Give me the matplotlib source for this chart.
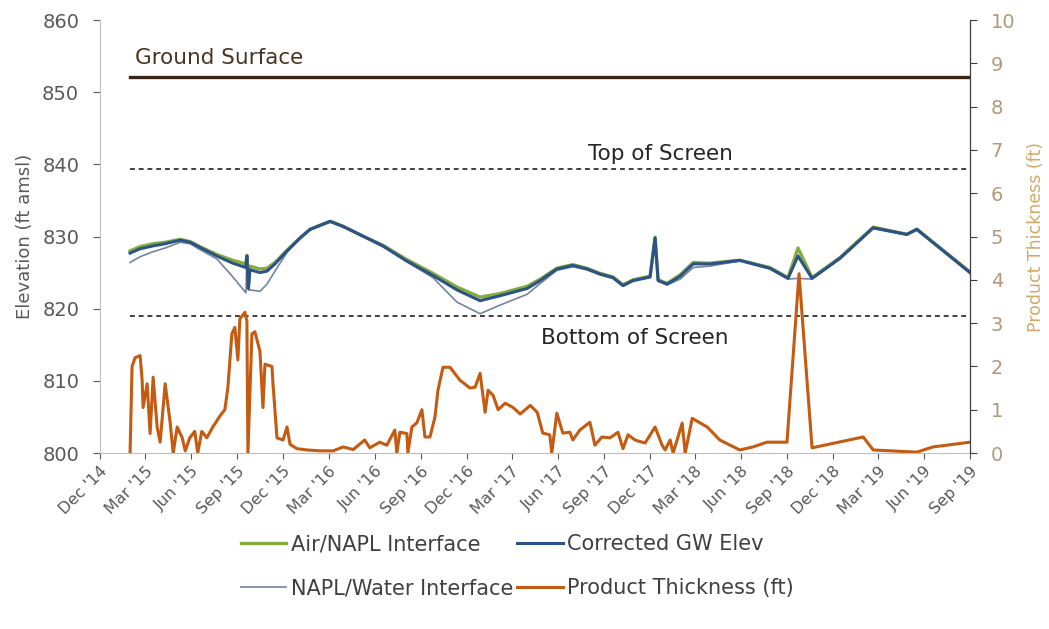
import numpy as np
import pandas as pd
import matplotlib
matplotlib.use("Agg")
import matplotlib.pyplot as plt
import matplotlib.dates as mdates

# groundwater elevations (ft amsl)
elev_dates = ['2015-01-30', '2015-02-19', '2015-03-17', '2015-04-10', '2015-05-10',
              '2015-05-30', '2015-06-18', '2015-07-22', '2015-08-23', '2015-09-18',
              '2015-09-20', '2015-09-23', '2015-09-26', '2015-10-16', '2015-10-30',
              '2015-11-15', '2015-12-09', '2016-01-04', '2016-01-24', '2016-03-04',
              '2016-03-30', '2016-05-16', '2016-06-17', '2016-08-04', '2016-09-25',
              '2016-11-12', '2016-12-28', '2017-02-06', '2017-04-01', '2017-04-27',
              '2017-05-30', '2017-07-01', '2017-07-29', '2017-08-24', '2017-09-19',
              '2017-10-09', '2017-10-29', '2017-12-02', '2017-12-12', '2017-12-18',
              '2018-01-05', '2018-01-31', '2018-02-26', '2018-03-31', '2018-05-30',
              '2018-07-29', '2018-09-03', '2018-09-23', '2018-10-21', '2018-12-16',
              '2019-02-20', '2019-04-28', '2019-05-18', '2019-09-01']
corrected_gw = [827.7, 828.3, 828.7, 829.0, 829.5, 829.2, 828.5, 827.3, 826.3, 825.7,
                827.3, 822.8, 825.4, 825.0, 825.2, 826.2, 828.0, 829.8, 831.0, 832.1,
                831.4, 829.8, 828.7, 826.6, 824.6, 822.6, 821.1, 821.8, 822.8, 823.9,
                825.5, 826.0, 825.5, 824.8, 824.3, 823.2, 823.9, 824.4, 829.8, 823.9,
                823.4, 824.5, 826.2, 826.2, 826.7, 825.6, 824.2, 827.3, 824.2, 827.0,
                831.2, 830.3, 831.0, 825.0]
air_napl = [828.0, 828.6, 829.0, 829.2, 829.6, 829.3, 828.6, 827.5, 826.7, 826.2,
            827.4, 823.0, 825.9, 825.5, 825.6, 826.4, 828.1, 829.8, 831.0, 832.1,
            831.4, 829.8, 828.8, 826.8, 824.9, 823.0, 821.6, 822.1, 823.1, 824.1,
            825.6, 826.1, 825.6, 824.9, 824.4, 823.3, 824.0, 824.5, 829.9, 824.0,
            823.5, 824.7, 826.4, 826.3, 826.7, 825.7, 824.3, 828.4, 824.3, 827.1,
            831.3, 830.3, 831.0, 825.1]
napl_water = [826.4, 827.2, 827.9, 828.4, 829.2, 829.0, 828.2, 826.9, 824.4, 822.2,
              826.9, 822.6, 822.6, 822.4, 823.4, 825.2, 827.8, 829.7, 830.9, 832.0,
              831.3, 829.7, 828.6, 826.5, 824.3, 820.9, 819.3, 820.5, 822.0, 823.5,
              825.3, 825.8, 825.4, 824.7, 824.2, 823.1, 823.8, 824.3, 829.5, 823.8,
              823.3, 824.1, 825.7, 825.9, 826.6, 825.5, 824.1, 824.2, 824.1, 826.9,
              831.1, 830.2, 830.9, 824.9]

# product thickness (ft)
thick_dates = ['2015-01-30', '2015-02-03', '2015-02-09', '2015-02-19', '2015-02-23',
               '2015-02-25', '2015-03-05', '2015-03-11', '2015-03-17', '2015-03-25',
               '2015-03-31', '2015-04-10', '2015-04-20', '2015-04-26', '2015-05-04',
               '2015-05-14', '2015-05-20', '2015-05-29', '2015-06-08', '2015-06-14',
               '2015-06-22', '2015-07-02', '2015-07-14', '2015-07-28', '2015-08-07',
               '2015-08-13', '2015-08-21', '2015-08-27', '2015-09-02', '2015-09-06',
               '2015-09-16', '2015-09-20', '2015-09-22', '2015-09-30', '2015-10-06',
               '2015-10-16', '2015-10-22', '2015-10-26', '2015-11-09', '2015-11-11',
               '2015-11-19', '2015-12-01', '2015-12-09', '2015-12-15', '2015-12-29',
               '2016-01-18', '2016-02-13', '2016-03-10', '2016-03-30', '2016-04-19',
               '2016-05-12', '2016-05-22', '2016-06-11', '2016-06-25', '2016-07-11',
               '2016-07-15', '2016-07-21', '2016-08-04', '2016-08-06', '2016-08-14',
               '2016-08-24', '2016-09-03', '2016-09-09', '2016-09-19', '2016-09-29',
               '2016-10-05', '2016-10-15', '2016-10-29', '2016-11-18', '2016-12-08',
               '2016-12-18', '2016-12-28', '2017-01-07', '2017-01-13', '2017-01-23',
               '2017-02-02', '2017-02-16', '2017-03-04', '2017-03-18', '2017-04-07',
               '2017-04-21', '2017-05-02', '2017-05-16', '2017-05-20', '2017-05-30',
               '2017-06-11', '2017-06-25', '2017-07-01', '2017-07-15', '2017-08-04',
               '2017-08-14', '2017-08-28', '2017-09-13', '2017-09-29', '2017-10-09',
               '2017-10-19', '2017-11-02', '2017-11-22', '2017-12-12', '2017-12-26',
               '2018-01-01', '2018-01-11', '2018-01-17', '2018-02-04', '2018-02-10',
               '2018-02-24', '2018-03-26', '2018-04-20', '2018-05-30', '2018-06-25',
               '2018-07-23', '2018-09-01', '2018-09-25', '2018-10-21', '2019-01-31',
               '2019-02-20', '2019-05-18', '2019-06-19', '2019-09-01']
thickness = [0.0, 2.0, 2.2, 2.25, 1.7, 1.05, 1.6, 0.45, 1.75, 0.6,
             0.25, 1.6, 0.7, 0.0, 0.6, 0.35, 0.05, 0.35, 0.5, 0.0,
             0.5, 0.35, 0.6, 0.85, 1.0, 1.5, 2.75, 2.9, 2.15, 3.1,
             3.25, 3.05, 0.0, 2.75, 2.8, 2.35, 1.05, 2.05, 2.0, 1.6,
             0.35, 0.3, 0.6, 0.2, 0.1, 0.07, 0.05, 0.05, 0.14, 0.08,
             0.3, 0.12, 0.25, 0.18, 0.53, 0.0, 0.48, 0.45, 0.0, 0.6,
             0.7, 1.0, 0.37, 0.37, 0.83, 1.45, 1.98, 1.98, 1.68, 1.5,
             1.52, 1.84, 0.94, 1.45, 1.33, 1.0, 1.15, 1.05, 0.9, 1.1,
             0.94, 0.46, 0.42, 0.0, 0.92, 0.46, 0.48, 0.3, 0.53, 0.71,
             0.18, 0.37, 0.35, 0.48, 0.1, 0.42, 0.3, 0.23, 0.6, 0.18,
             0.07, 0.3, 0.0, 0.69, 0.0, 0.8, 0.6, 0.3, 0.07, 0.14,
             0.25, 0.25, 4.14, 0.12, 0.37, 0.07, 0.02, 0.14, 0.25]

ref_dates = ['2015-01-30', '2019-09-01']
ground_surface = 852.1
top_of_screen = 839.3
bottom_of_screen = 819.0

plt.rcParams['font.family'] = ['DejaVu Sans']

ed = pd.to_datetime(elev_dates)
td = pd.to_datetime(thick_dates)
rd = pd.to_datetime(ref_dates)

fig = plt.figure(figsize=(10.49, 6.29), dpi=100)
ax = fig.add_axes([0.0953, 0.2798, 0.8294, 0.6884])
ax2 = ax.twinx()

ax.plot(rd, [ground_surface] * 2, color='#3a2616', lw=2.4)
ax.plot(rd, [top_of_screen] * 2, color='#404040', lw=1.4, ls=(0, (2.5, 2)))
ax.plot(rd, [bottom_of_screen] * 2, color='#404040', lw=1.4, ls=(0, (2.5, 2)))

l1, = ax.plot(ed, air_napl, color='#86ad3c', lw=2.4, label='Air/NAPL Interface')
l3, = ax.plot(ed, napl_water, color='#7383a0', lw=1.2, label='NAPL/Water Interface')
l2, = ax.plot(ed, corrected_gw, color='#2c5385', lw=2.2, label='Corrected GW Elev')
l4, = ax2.plot(td, thickness, color='#c55a11', lw=2.2, label='Product Thickness (ft)')

ax.text(pd.Timestamp('2015-02-09'), 853.4, 'Ground Surface', fontsize=15.5,
        color='#4a3320', va='bottom', ha='left')
ax.text(pd.Timestamp('2017-12-22'), 841.5, 'Top of Screen', fontsize=15.5,
        color='#262626', va='center', ha='center')
ax.text(pd.Timestamp('2017-11-02'), 815.9, 'Bottom of Screen', fontsize=15.5,
        color='#262626', va='center', ha='center')

ax.set_ylim(800, 860)
ax.set_yticks(np.arange(800, 861, 10))
ax2.set_ylim(0, 10)
ax2.set_yticks(np.arange(0, 11, 1))
ax.set_xlim(pd.Timestamp('2014-12-01'), pd.Timestamp('2019-09-01'))

ax.xaxis.set_major_locator(mdates.MonthLocator(bymonth=[3, 6, 9, 12]))
ax.xaxis.set_major_formatter(mdates.DateFormatter("%b '%y"))
for lab in ax.get_xticklabels():
    lab.set_rotation(45)
    lab.set_ha('right')
    lab.set_rotation_mode('anchor')

ax.tick_params(axis='x', labelsize=11.5, colors='#595959', length=4, direction='out')
ax.tick_params(axis='y', labelsize=14, colors='#595959', length=5, direction='out', pad=10)
ax2.tick_params(axis='y', labelsize=14, labelcolor='#b09a78', color='#404040',
                length=5, direction='out', pad=10)

ax.set_ylabel('Elevation (ft amsl)', fontsize=13, color='#595959', labelpad=6)
ax2.set_ylabel('Product Thickness (ft)', fontsize=12.5, color='#d2a868', labelpad=8)

for a in (ax, ax2):
    a.spines['top'].set_visible(False)
ax.spines['left'].set_color('#bfbfbf')
ax.spines['bottom'].set_color('#bfbfbf')
ax2.spines['left'].set_visible(False)
ax2.spines['bottom'].set_visible(False)
ax2.spines['right'].set_color('#404040')

fig.legend(handles=[l1, l3, l2, l4], loc='center', bbox_to_anchor=(0.493, 0.1),
           ncol=2, frameon=False, fontsize=15, handlelength=2.2,
           handletextpad=0.2, columnspacing=0.2, labelspacing=1.15,
           labelcolor='#404040')

fig.savefig('out.png', dpi=100)
